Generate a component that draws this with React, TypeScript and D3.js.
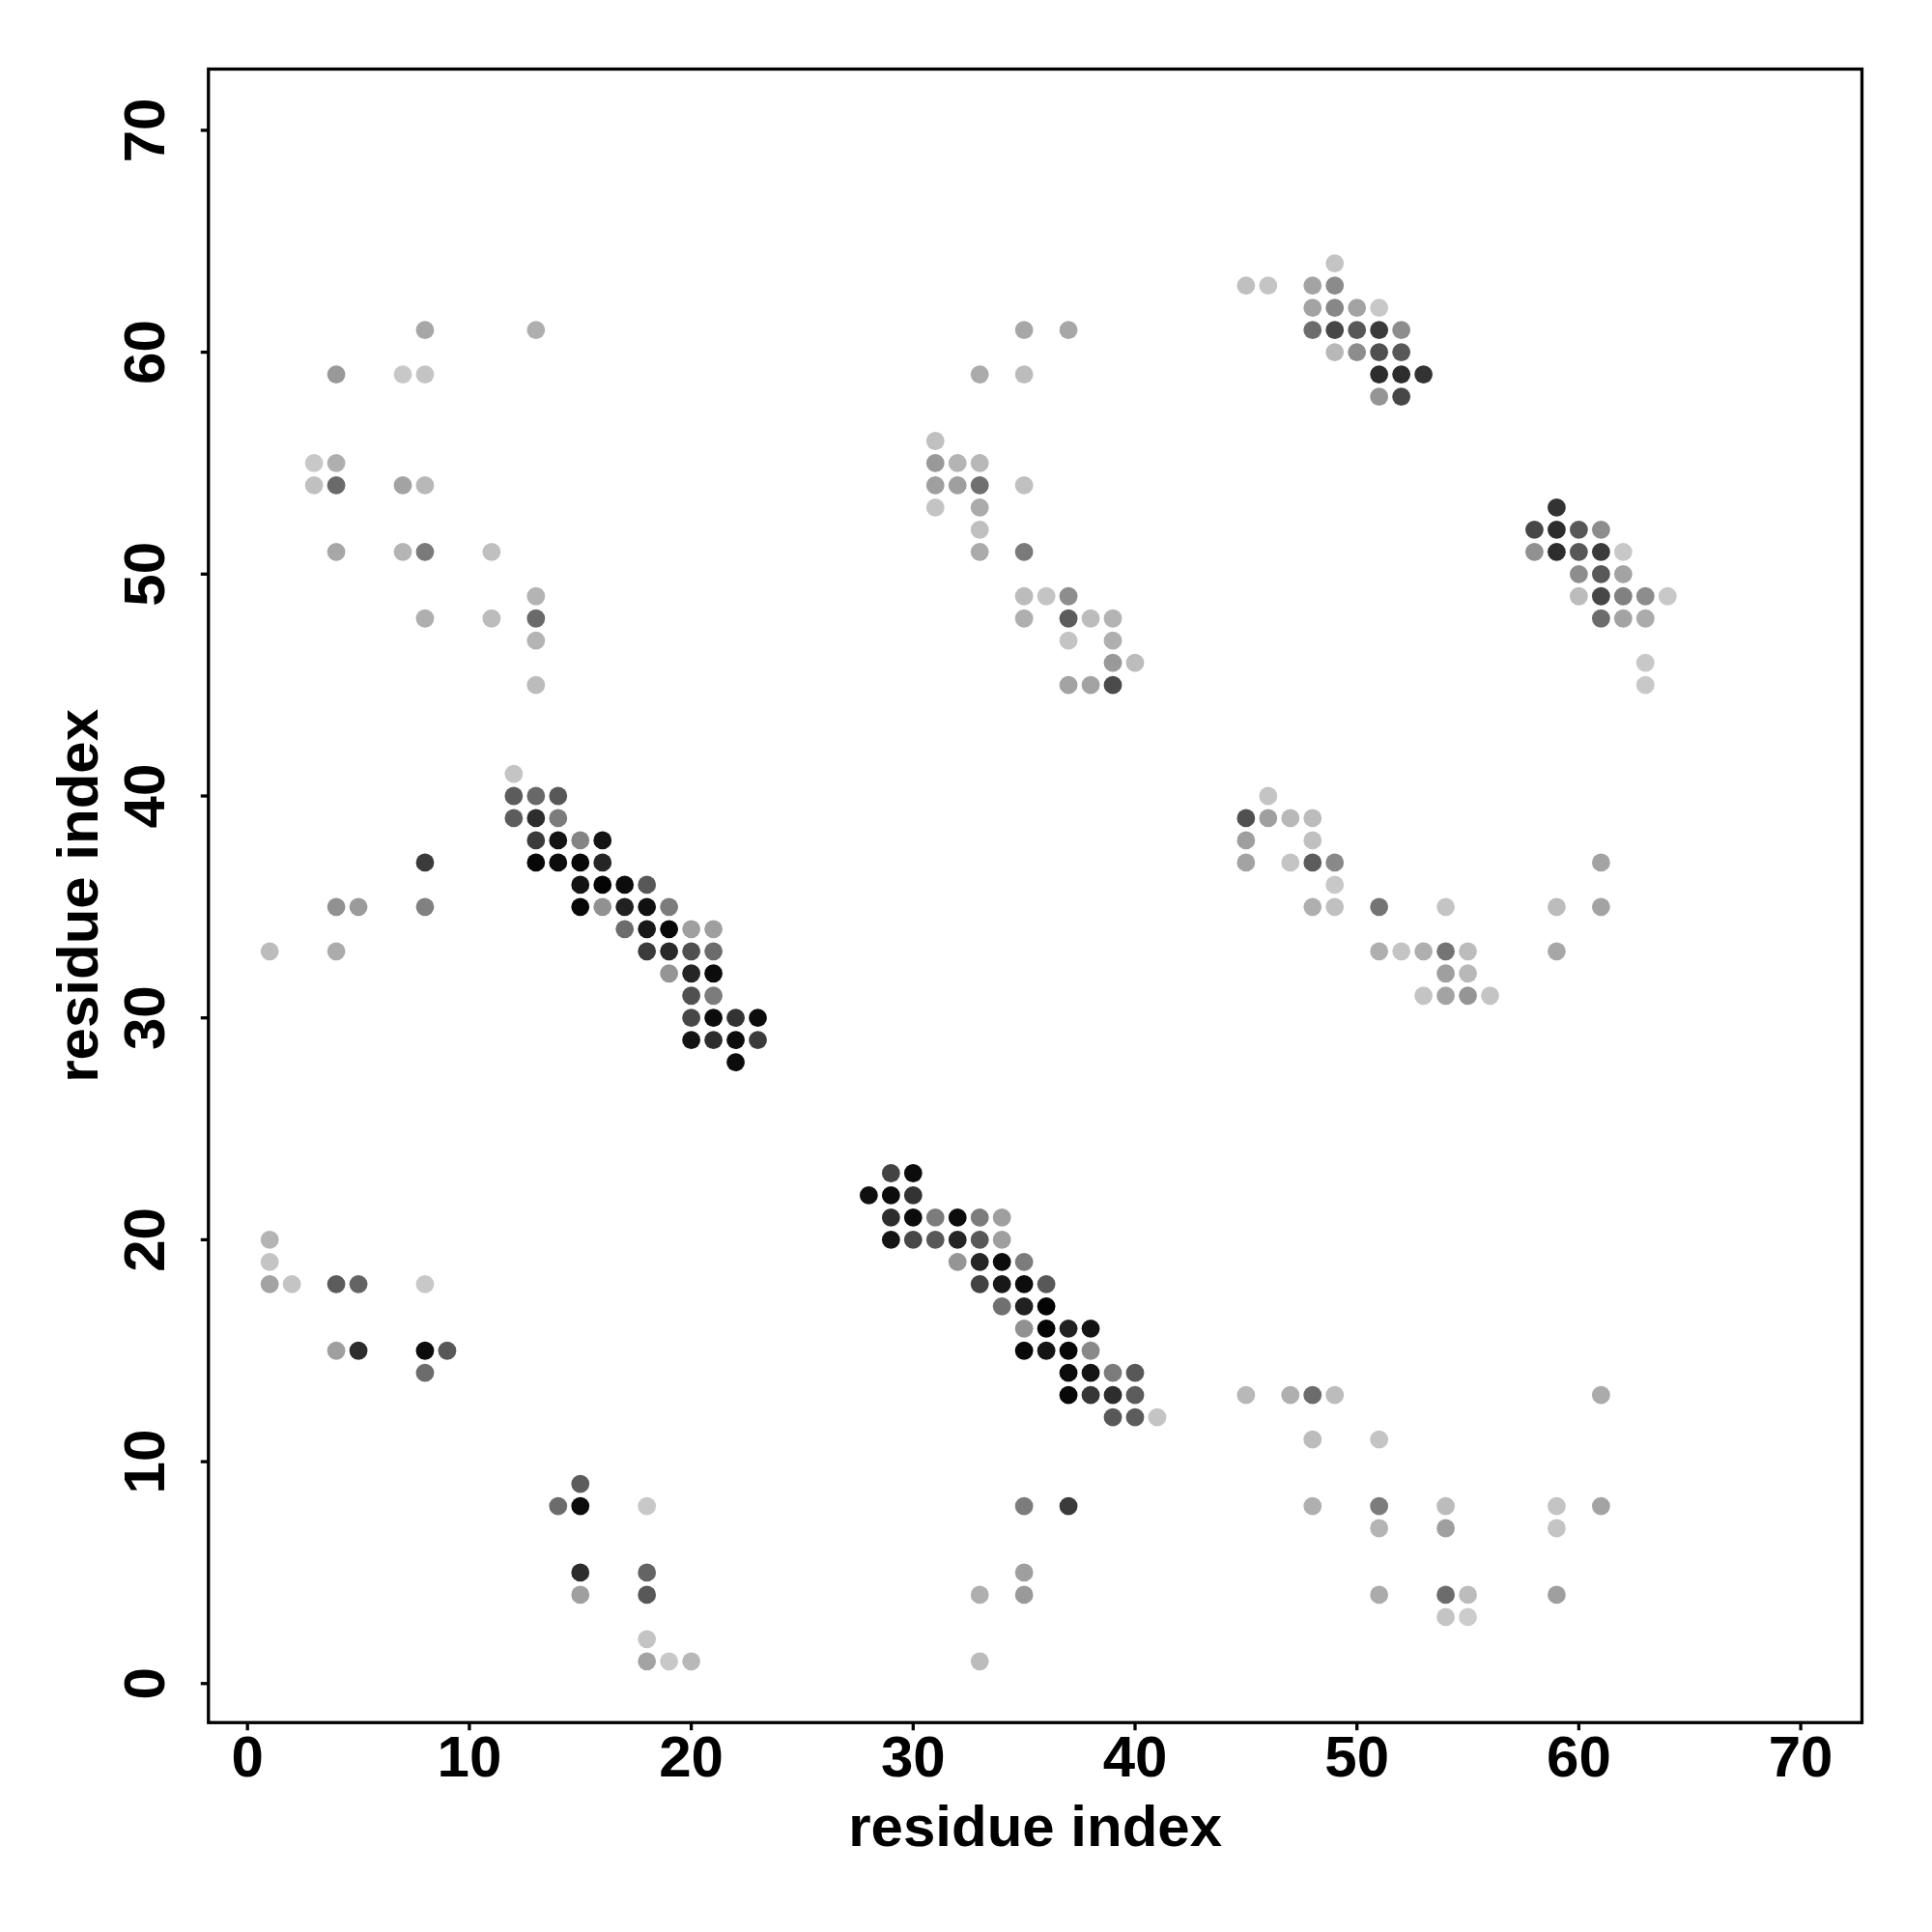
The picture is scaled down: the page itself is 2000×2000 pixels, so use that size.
import React from "react";
import * as d3 from "d3";

// Contacts: [residue i (x), residue j (y), contact score 0..1]
const helixPairTopLeft: [number, number, number][] = [
  [8, 61, 0.18], [13, 61, 0.14], [4, 59, 0.25], [7, 59, 0.02], [8, 59, 0.04],
  [3, 55, 0.02], [4, 55, 0.14], [3, 54, 0.06], [4, 54, 0.48], [7, 54, 0.2], [8, 54, 0.1],
  [4, 51, 0.18], [7, 51, 0.12], [8, 51, 0.4], [11, 51, 0.06], [13, 49, 0.12],
  [8, 48, 0.14], [11, 48, 0.08], [13, 48, 0.48], [13, 47, 0.12], [13, 45, 0.08],
];

const helixPairTopMid: [number, number, number][] = [
  [35, 61, 0.18], [37, 61, 0.18], [33, 59, 0.16], [35, 59, 0.08], [31, 56, 0.06],
  [31, 55, 0.25], [32, 55, 0.12], [33, 55, 0.1], [31, 54, 0.22], [32, 54, 0.22],
  [33, 54, 0.45], [35, 54, 0.06], [31, 53, 0.04], [33, 53, 0.16], [33, 52, 0.06],
  [33, 51, 0.16], [35, 51, 0.4], [35, 49, 0.08], [36, 49, 0.04], [37, 49, 0.31],
  [35, 48, 0.14], [37, 48, 0.55], [38, 48, 0.08], [39, 48, 0.12], [37, 47, 0.04],
  [39, 47, 0.14], [39, 46, 0.25], [40, 46, 0.08], [37, 45, 0.2], [38, 45, 0.2], [39, 45, 0.63],
];

const hairpinTopRight: [number, number, number][] = [
  [49, 64, 0.04], [45, 63, 0.06], [46, 63, 0.04], [48, 63, 0.2], [49, 63, 0.32],
  [48, 62, 0.2], [49, 62, 0.34], [50, 62, 0.2], [51, 62, 0.02],
  [48, 61, 0.47], [49, 61, 0.65], [50, 61, 0.57], [51, 61, 0.71], [52, 61, 0.31],
  [49, 60, 0.1], [50, 60, 0.31], [51, 60, 0.61], [52, 60, 0.57],
  [51, 59, 0.78], [52, 59, 0.78], [53, 59, 0.75], [51, 58, 0.27], [52, 58, 0.65],
];

const hairpinRight: [number, number, number][] = [
  [59, 53, 0.75], [58, 52, 0.65], [59, 52, 0.78], [60, 52, 0.57], [61, 52, 0.31],
  [58, 51, 0.29], [59, 51, 0.78], [60, 51, 0.57], [61, 51, 0.71], [62, 51, 0.02],
  [60, 50, 0.31], [61, 50, 0.57], [62, 50, 0.2], [60, 49, 0.08], [61, 49, 0.65],
  [62, 49, 0.37], [63, 49, 0.31], [64, 49, 0.02], [61, 48, 0.47], [62, 48, 0.2],
  [63, 48, 0.16], [63, 46, 0.02], [63, 45, 0.02],
];

const strandUpper: [number, number, number][] = [
  [12, 41, 0.04], [12, 40, 0.55], [13, 40, 0.49], [14, 40, 0.57],
  [12, 39, 0.55], [13, 39, 0.78], [14, 39, 0.39],
  [13, 38, 0.71], [14, 38, 0.9], [15, 38, 0.35], [16, 38, 0.9],
  [13, 37, 0.96], [14, 37, 0.94], [15, 37, 0.96], [16, 37, 0.82],
  [15, 36, 0.9], [16, 36, 0.98], [17, 36, 0.94], [18, 36, 0.57],
  [15, 35, 0.96], [16, 35, 0.29], [17, 35, 0.84], [18, 35, 0.92], [19, 35, 0.39],
  [17, 34, 0.47], [18, 34, 0.88], [19, 34, 0.96], [20, 34, 0.22], [21, 34, 0.22],
  [18, 33, 0.71], [19, 33, 0.8], [20, 33, 0.61], [21, 33, 0.47],
  [19, 32, 0.27], [20, 32, 0.82], [21, 32, 0.94], [20, 31, 0.61], [21, 31, 0.39],
  [20, 30, 0.65], [21, 30, 0.94], [22, 30, 0.75], [23, 30, 0.94],
  [20, 29, 0.9], [21, 29, 0.78], [22, 29, 0.94], [23, 29, 0.71], [22, 28, 0.94],
];

const strandLower: [number, number, number][] = [
  [29, 23, 0.67], [30, 23, 0.94], [28, 22, 0.92], [29, 22, 0.94], [30, 22, 0.75],
  [29, 21, 0.78], [30, 21, 0.94], [31, 21, 0.39], [32, 21, 0.94], [33, 21, 0.39], [34, 21, 0.22],
  [29, 20, 0.9], [30, 20, 0.65], [31, 20, 0.57], [32, 20, 0.82], [33, 20, 0.57], [34, 20, 0.22],
  [32, 19, 0.27], [33, 19, 0.82], [34, 19, 0.94], [35, 19, 0.39],
  [33, 18, 0.67], [34, 18, 0.88], [35, 18, 0.94], [36, 18, 0.57],
  [34, 17, 0.45], [35, 17, 0.84], [36, 17, 0.98],
  [35, 16, 0.29], [36, 16, 0.98], [37, 16, 0.84], [38, 16, 0.9],
  [35, 15, 0.96], [36, 15, 0.9], [37, 15, 0.96], [38, 15, 0.33],
  [37, 14, 0.94], [38, 14, 0.9], [39, 14, 0.39], [40, 14, 0.57],
  [37, 13, 0.96], [38, 13, 0.73], [39, 13, 0.78], [40, 13, 0.55],
  [39, 12, 0.57], [40, 12, 0.55], [41, 12, 0.04],
];

const midRight: [number, number, number][] = [
  [46, 40, 0.04], [45, 39, 0.61], [46, 39, 0.22], [47, 39, 0.1], [48, 39, 0.08],
  [45, 38, 0.22], [48, 38, 0.06], [45, 37, 0.2], [47, 37, 0.04], [48, 37, 0.55],
  [49, 37, 0.33], [61, 37, 0.2], [49, 36, 0.02], [48, 35, 0.14], [49, 35, 0.06],
  [51, 35, 0.43], [54, 35, 0.04], [59, 35, 0.08], [61, 35, 0.2],
  [51, 33, 0.14], [52, 33, 0.04], [53, 33, 0.14], [54, 33, 0.43], [55, 33, 0.08], [59, 33, 0.18],
  [54, 32, 0.22], [55, 32, 0.1], [53, 31, 0.04], [54, 31, 0.2], [55, 31, 0.27], [56, 31, 0.04],
];

const midLeft: [number, number, number][] = [
  [8, 37, 0.71], [4, 35, 0.29], [5, 35, 0.24], [8, 35, 0.37], [1, 33, 0.08], [4, 33, 0.16],
];

const bottomLeft: [number, number, number][] = [
  [1, 20, 0.12], [1, 19, 0.04], [1, 18, 0.2], [2, 18, 0.04], [4, 18, 0.55], [5, 18, 0.51],
  [8, 18, 0.02], [4, 15, 0.22], [5, 15, 0.78], [8, 15, 0.94], [9, 15, 0.57], [8, 14, 0.47],
  [15, 9, 0.55], [14, 8, 0.47], [15, 8, 0.94], [18, 8, 0.02], [15, 5, 0.78], [18, 5, 0.51],
  [15, 4, 0.22], [18, 4, 0.57], [18, 2, 0.04], [18, 1, 0.2], [19, 1, 0.02], [20, 1, 0.1],
];

const bottomMid: [number, number, number][] = [
  [35, 8, 0.39], [37, 8, 0.71], [35, 5, 0.22], [33, 4, 0.14], [35, 4, 0.25], [33, 1, 0.08],
];

const bottomRight: [number, number, number][] = [
  [45, 13, 0.1], [47, 13, 0.14], [48, 13, 0.47], [49, 13, 0.08], [61, 13, 0.16],
  [48, 11, 0.08], [51, 11, 0.04], [48, 8, 0.14], [51, 8, 0.39], [54, 8, 0.08],
  [59, 8, 0.04], [61, 8, 0.2], [51, 7, 0.12], [54, 7, 0.22], [59, 7, 0.04],
  [51, 4, 0.16], [54, 4, 0.47], [55, 4, 0.08], [59, 4, 0.22], [54, 3, 0.04], [55, 3, 0.0],
];

const axisTicks = [0, 10, 20, 30, 40, 50, 60, 70];
const xLabel = "residue index";
const yLabel = "residue index";

const allContacts = [
  ...helixPairTopLeft, ...helixPairTopMid, ...hairpinTopRight, ...hairpinRight,
  ...strandUpper, ...strandLower, ...midRight, ...midLeft, ...bottomLeft,
  ...bottomMid, ...bottomRight,
];

export default function App() {
  const W = 2000;
  const H = 2000;
  const lim: [number, number] = [-1.76, 72.76];
  const unit = 22.97;
  const x = d3.scaleLinear().domain([0, 70]).range([256.2, 256.2 + 70 * unit]);
  const y = d3.scaleLinear().domain([0, 70]).range([1742.8, 1742.8 - 70 * unit]);
  const grayL = d3.scaleLinear().domain([0, 1]).range([204, 0]);
  const color = (s: number) => {
    const v = Math.round(grayL(s));
    return d3.rgb(v, v, v).toString();
  };
  const left = x(lim[0]);
  const right = x(lim[1]);
  const top = y(lim[1]);
  const bottom = y(lim[0]);
  const font = "'Liberation Sans', Arial, Helvetica, sans-serif";
  const lw = 3.3;
  const tickLen = 8;

  return (
    <svg
      width={W}
      height={H}
      style={{ position: "absolute", left: 0, top: 0, background: "#fff" }}
      fontFamily={font}
      fontWeight="bold"
    >
      <rect x={0} y={0} width={W} height={H} fill="#fff" />
      {allContacts.map(([i, j, s], k) => (
        <circle key={k} cx={x(i)} cy={y(j)} r={9.4} fill={color(s)} />
      ))}
      <rect
        x={left}
        y={top}
        width={right - left}
        height={bottom - top}
        fill="none"
        stroke="#000"
        strokeWidth={lw}
      />
      {axisTicks.map((t) => (
        <g key={"x" + t}>
          <line x1={x(t)} x2={x(t)} y1={bottom} y2={bottom + tickLen} stroke="#000" strokeWidth={lw} />
          <text x={x(t)} y={1839} textAnchor="middle" fontSize={60} fill="#000">
            {t}
          </text>
        </g>
      ))}
      {axisTicks.map((t) => (
        <g key={"y" + t}>
          <line x1={left - tickLen} x2={left} y1={y(t)} y2={y(t)} stroke="#000" strokeWidth={lw} />
          <text
            transform={`translate(170,${y(t)}) rotate(-90)`}
            textAnchor="middle"
            fontSize={60}
            fill="#000"
          >
            {t}
          </text>
        </g>
      ))}
      <text x={(left + right) / 2} y={1911} textAnchor="middle" fontSize={60} fill="#000">
        {xLabel}
      </text>
      <text
        transform={`translate(101,${(top + bottom) / 2}) rotate(-90)`}
        textAnchor="middle"
        fontSize={60}
        fill="#000"
      >
        {yLabel}
      </text>
    </svg>
  );
}
